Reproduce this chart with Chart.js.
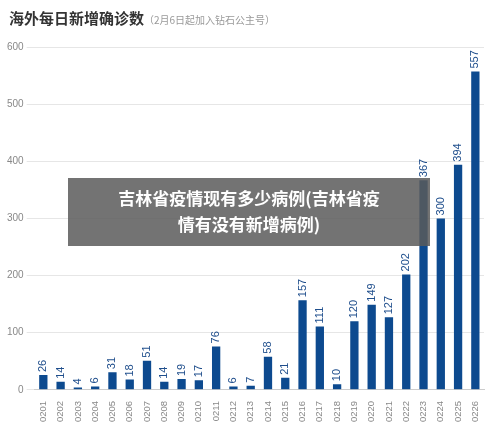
<!DOCTYPE html>
<html><head><meta charset="utf-8">
<script src="https://cdn.jsdelivr.net/npm/chart.js@4/dist/chart.umd.min.js"></script>
<style>
body{margin:0;background:#fff;font-family:"Noto Sans CJK SC","Noto Sans",sans-serif}
#wrap{position:relative;width:500px;height:428px}
#title{position:absolute;left:9px;top:7px;font-size:15px;font-weight:bold;color:#333}
#title span{font-size:10px;font-weight:normal;color:#999}
#ov{position:absolute;left:68px;top:178px;width:362px;height:68px;background:rgba(90,90,90,0.85);color:#fff;font-size:17px;font-weight:bold;text-align:center;line-height:26px;padding-top:7px;box-sizing:border-box}
</style></head><body>
<div id="wrap">
<canvas id="c" width="500" height="428"></canvas>
<div id="title">海外每日新增确诊数<span>（2月6日起加入钻石公主号）</span></div>
<div id="ov">吉林省疫情现有多少病例(吉林省疫<br>情有没有新增病例)</div>
</div>
<script>
const categories=["0201","0202","0203","0204","0205","0206","0207","0208","0209","0210","0211","0212","0213","0214","0215","0216","0217","0218","0219","0220","0221","0222","0223","0224","0225","0226"];
const values=[26,14,4,6,31,18,51,14,19,17,76,6,7,58,21,157,111,10,120,149,127,202,367,300,394,557];
const yTicks=[0,100,200,300,400,500,600];
const labelPlugin={id:'lbl',afterDatasetsDraw(chart){
 const ctx=chart.ctx;const meta=chart.getDatasetMeta(0);
 ctx.save();ctx.fillStyle='#1f4e8c';ctx.font='11px "Liberation Sans",Arial';ctx.textAlign='left';ctx.textBaseline='middle';
 meta.data.forEach((b,i)=>{ctx.save();ctx.translate(b.x,b.y-3);ctx.rotate(-Math.PI/2);ctx.fillText(String(values[i]),0,0);ctx.restore();});
 ctx.restore();}};
new Chart(document.getElementById('c'),{type:'bar',
 data:{labels:categories,datasets:[{data:values,backgroundColor:'#0d4a8f',categoryPercentage:0.8,barPercentage:0.6}]},
 options:{responsive:false,animation:false,layout:{padding:{top:47,right:16,left:4,bottom:3}},
 plugins:{legend:{display:false},tooltip:{enabled:false}},
 scales:{x:{grid:{display:false},border:{color:'#ccc'},ticks:{color:'#888',font:{size:9.5},minRotation:90,maxRotation:90,autoSkip:false}},
  y:{min:0,max:600,afterBuildTicks(a){a.ticks=yTicks.map(v=>({value:v}));},grid:{color:'#e6e6e6'},border:{display:false},ticks:{color:'#888',font:{size:10}}}}},
 plugins:[labelPlugin]});
</script></body></html>
